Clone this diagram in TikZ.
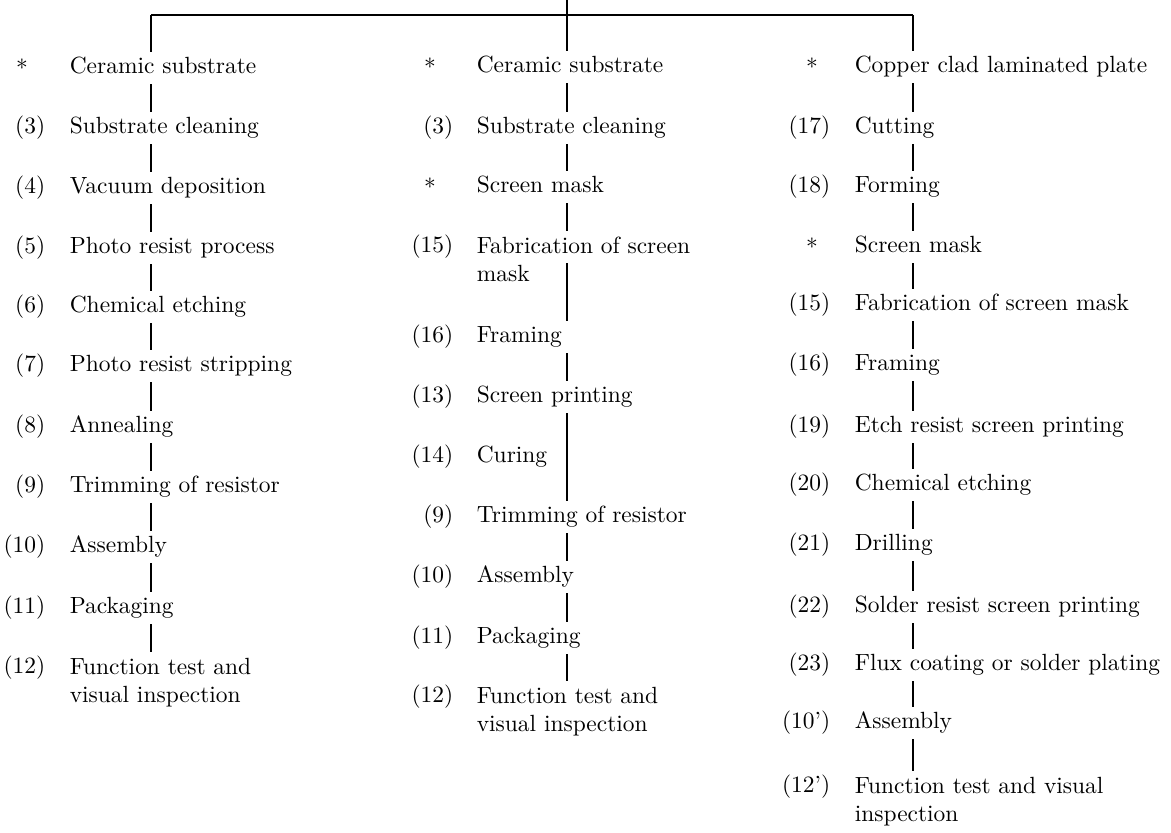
\documentclass[tikz,border=0pt]{standalone}
\usepackage{amsmath}
\usepackage{tikz}
\usetikzlibrary{calc}

\begin{document}
\begin{tikzpicture}[x=0.015cm,y=-0.015cm]
        \tikzstyle{stage}=[anchor=west,inner xsep=1pt,inner ysep=2.3pt,text height=1.6ex,text depth=0.5ex]
        \tikzstyle{stagetwo}=[anchor=north west,inner xsep=1pt,inner ysep=2.3pt,align=left]
        \tikzstyle{stepno}=[anchor=east,inner sep=1pt]
        \tikzstyle{raw}=[inner sep=1pt]
        \tikzstyle{flow}=[line width=1pt]

        \useasboundingbox (0,0) rectangle (1171,832);

        %% Branch points on the top rail
        \coordinate (top) at (567,0);
        \coordinate (c1) at (151,15);
        \coordinate (c2) at (567,15);
        \coordinate (c3) at (913,15);

        %% Left column
        \begin{scope}[shift={(67,0)}]
            \node [raw] (l1n) at (-45,68) {*};
            \node [stage] (l1) at (0,68) {Ceramic substrate};
            \node [stepno] (l2n) at (-19,128) {(3)};
            \node [stage] (l2) at (0,128) {Substrate cleaning};
            \node [stepno] (l3n) at (-19,188) {(4)};
            \node [stage] (l3) at (0,188) {Vacuum deposition};
            \node [stepno] (l4n) at (-19,248) {(5)};
            \node [stage] (l4) at (0,248) {Photo resist process};
            \node [stepno] (l5n) at (-19,307) {(6)};
            \node [stage] (l5) at (0,307) {Chemical etching};
            \node [stepno] (l6n) at (-19,366) {(7)};
            \node [stage] (l6) at (0,366) {Photo resist stripping};
            \node [stepno] (l7n) at (-19,427) {(8)};
            \node [stage] (l7) at (0,427) {Annealing};
            \node [stepno] (l8n) at (-19,487) {(9)};
            \node [stage] (l8) at (0,487) {Trimming of resistor};
            \node [stepno] (l9n) at (-19,547) {(10)};
            \node [stage] (l9) at (0,547) {Assembly};
            \node [stepno] (l10n) at (-19,608) {(11)};
            \node [stage] (l10) at (0,608) {Packaging};
            \node [stepno] (l11n) at (-19,668) {(12)};
            \node [stagetwo] (l11) at (0,652) {Function test and\\visual inspection};
        \end{scope}

        %% Middle column
        \begin{scope}[shift={(474,0)}]
            \node [raw] (m1n) at (-44,67) {*};
            \node [stage] (m1) at (0,67) {Ceramic substrate};
            \node [stepno] (m2n) at (-18,128) {(3)};
            \node [stage] (m2) at (0,128) {Substrate cleaning};
            \node [raw] (m3n) at (-44,187) {*};
            \node [stage] (m3) at (0,187) {Screen mask};
            \node [stepno] (m4n) at (-18,247) {(15)};
            \node [stagetwo] (m4) at (0,231) {Fabrication of screen\\mask};
            \node [stepno] (m5n) at (-18,337) {(16)};
            \node [stage] (m5) at (0,337) {Framing};
            \node [stepno] (m6n) at (-18,397) {(13)};
            \node [stage] (m6) at (0,397) {Screen printing};
            \node [stepno] (m7n) at (-18,457) {(14)};
            \node [stage] (m7) at (0,457) {Curing};
            \node [stepno] (m8n) at (-18,517) {(9)};
            \node [stage] (m8) at (0,517) {Trimming of resistor};
            \node [stepno] (m9n) at (-18,577) {(10)};
            \node [stage] (m9) at (0,577) {Assembly};
            \node [stepno] (m10n) at (-18,638) {(11)};
            \node [stage] (m10) at (0,638) {Packaging};
            \node [stepno] (m11n) at (-18,697) {(12)};
            \node [stagetwo] (m11) at (0,681) {Function test and\\visual inspection};
        \end{scope}

        %% Right column
        \begin{scope}[shift={(852,0)}]
            \node [raw] (r1n) at (-40,67) {*};
            \node [stage] (r1) at (0,67) {Copper clad laminated plate};
            \node [stepno] (r2n) at (-19,128) {(17)};
            \node [stage] (r2) at (0,128) {Cutting};
            \node [stepno] (r3n) at (-19,187) {(18)};
            \node [stage] (r3) at (0,187) {Forming};
            \node [raw] (r4n) at (-40,247) {*};
            \node [stage] (r4) at (0,247) {Screen mask};
            \node [stepno] (r5n) at (-19,305) {(15)};
            \node [stage] (r5) at (0,305) {Fabrication of screen mask};
            \node [stepno] (r6n) at (-19,365) {(16)};
            \node [stage] (r6) at (0,365) {Framing};
            \node [stepno] (r7n) at (-19,427) {(19)};
            \node [stage] (r7) at (0,427) {Etch resist screen printing};
            \node [stepno] (r8n) at (-19,485) {(20)};
            \node [stage] (r8) at (0,485) {Chemical etching};
            \node [stepno] (r9n) at (-19,545) {(21)};
            \node [stage] (r9) at (0,545) {Drilling};
            \node [stepno] (r10n) at (-19,607) {(22)};
            \node [stage] (r10) at (0,607) {Solder resist screen printing};
            \node [stepno] (r11n) at (-19,665) {(23)};
            \node [stage] (r11) at (0,665) {Flux coating or solder plating};
            \node [stepno] (r12n) at (-19,723) {(10')};
            \node [stage] (r12) at (0,723) {Assembly};
            \node [stepno] (r13n) at (-19,787) {(12')};
            \node [stagetwo] (r13) at (0,771) {Function test and visual\\inspection};
        \end{scope}

        %% Top rail and drops
        \draw [flow] (c1) -- (c3);
        \draw [flow] (top) -- (m1.north -| top);
        \draw [flow] (c1) -- (l1.north -| c1);
        \draw [flow] (c3) -- (r1.north -| c3);

        %% Links down each column
        \draw [flow] (l1.south -| c1) -- (l2.north -| c1)
                     (l2.south -| c1) -- (l3.north -| c1)
                     (l3.south -| c1) -- (l4.north -| c1)
                     (l4.south -| c1) -- (l5.north -| c1)
                     (l5.south -| c1) -- (l6.north -| c1)
                     (l6.south -| c1) -- (l7.north -| c1)
                     (l7.south -| c1) -- (l8.north -| c1)
                     (l8.south -| c1) -- (l9.north -| c1)
                     (l9.south -| c1) -- (l10.north -| c1)
                     (l10.south -| c1) -- (l11.north -| c1);

        \draw [flow] (m1.south -| c2) -- (m2.north -| c2)
                     (m2.south -| c2) -- (m3.north -| c2)
                     (m3.south -| c2) -- (m4.north -| c2)
                     ($(m4.north -| c2)+(0,32)$) -- (m5.north -| c2)
                     (m5.south -| c2) -- (m6.north -| c2)
                     (m6.south -| c2) -- (m8.north -| c2) % runs past Curing
                     (m8.south -| c2) -- (m9.north -| c2)
                     (m9.south -| c2) -- (m10.north -| c2)
                     (m10.south -| c2) -- (m11.north -| c2);

        \draw [flow] (r1.south -| c3) -- (r2.north -| c3)
                     (r2.south -| c3) -- (r3.north -| c3)
                     (r3.south -| c3) -- (r4.north -| c3)
                     (r4.south -| c3) -- (r5.north -| c3)
                     (r5.south -| c3) -- (r6.north -| c3)
                     (r6.south -| c3) -- (r7.north -| c3)
                     (r7.south -| c3) -- (r8.north -| c3)
                     (r8.south -| c3) -- (r9.north -| c3)
                     (r9.south -| c3) -- (r10.north -| c3)
                     (r10.south -| c3) -- (r11.north -| c3)
                     (r11.south -| c3) -- (r12.north -| c3)
                     (r12.south -| c3) -- (r13.north -| c3);
    \end{tikzpicture}
\end{document}
